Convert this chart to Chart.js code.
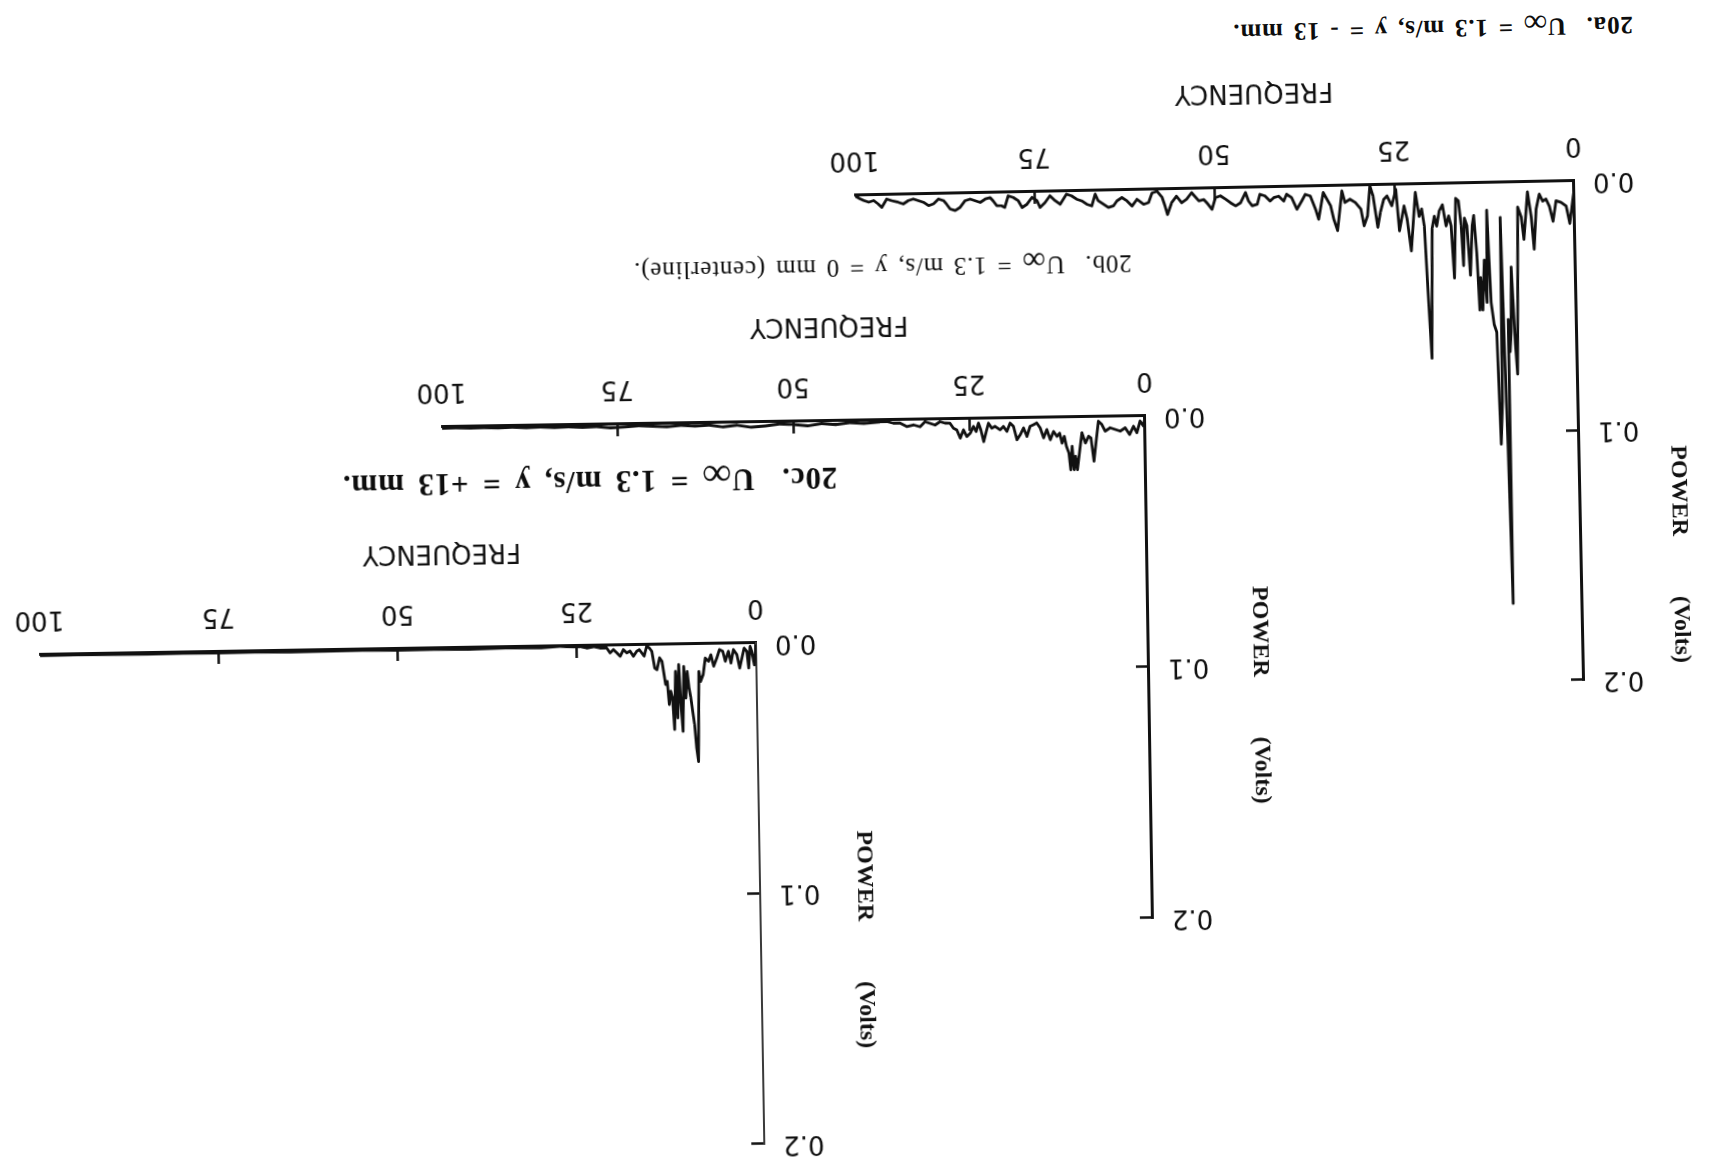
<!DOCTYPE html>
<html><head><meta charset="utf-8">
<script src="https://cdn.jsdelivr.net/npm/chart.js@4/dist/chart.umd.min.js"></script>
<style>
html,body{margin:0;padding:0;background:#fff;}
#page{position:relative;width:1710px;height:1169px;overflow:hidden;background:#fff;}
.wrap{position:absolute;}
.wrap canvas{position:absolute;left:0;top:0;}
.cap{position:absolute;white-space:pre;font-family:"Liberation Serif","Times New Roman",serif;color:#0d0d0d;line-height:1;letter-spacing:0.8px;word-spacing:3px;}
.cap .inf{display:inline-block;font-size:1.3em;line-height:0.5;transform:translateY(0.2em);}
</style></head><body><div id="page"></div>
<script>
// ---------- data ----------
const xTicks = [0, 25, 50, 75, 100];
const yTicks = [0, 0.1, 0.2];
const yTickLabels = ['0.0', '0.1', '0.2'];
const xTitle = 'FREQUENCY';
const yTitleWords = ['POWER', '(Volts)'];

// 20a: y = -13 mm
const freqA = [0,0.7,1.16,1.86,2.56,3.02,3.49,3.95,4.42,4.88,5.35,5.72,6.05,6.51,7.12,7.44,7.91,8.14,8.37,8.6,8.98,9.16,9.35,9.53,9.63,9.91,10.09,10.37,10.56,10.84,11.16,11.49,11.86,12.23,12.42,12.7,13.02,13.26,13.44,13.72,14.05,14.28,14.65,15.02,15.35,15.58,15.81,16.14,16.51,16.88,17.21,17.53,17.91,18.37,18.84,19.21,19.53,19.86,20.23,20.6,20.93,21.26,21.63,
22.1,22.8,23.3,23.7,24.4,24.8,25.4,26.05,26.5,27.0,27.4,27.98,28.4,28.8,29.3,29.7,30.46,31.2,31.9,32.3,33.0,33.5,33.9,34.9,35.6,36.0,36.7,37.4,37.9,38.6,39.3,40.0,40.4,41.1,41.8,42.3,43.0,43.7,44.1,44.8,45.3,45.7,46.4,47.1,47.8,48.5,49.2,49.9,50.4,51.1,51.5,52.2,53.2,53.9,54.6,55.3,56.0,56.6,57.0,57.3,58.0,58.7,
59.2,59.9,60.8,61.5,62.2,62.9,63.6,64.1,64.8,65.5,66.2,66.6,67.1,67.8,68.5,69.2,69.9,70.6,71.5,72.2,72.9,73.6,74.3,74.7,75.4,76.1,76.8,77.3,78.0,78.7,79.2,79.6,80.3,80.8,81.2,81.9,82.6,83.3,84.0,84.7,85.4,86.1,86.8,87.3,87.7,88.4,89.1,89.8,90.5,91.2,91.9,92.6,93.3,94.0,94.9,95.6,96.3,96.8,97.4,98.1,98.8,99.3,100];
const powerA = [0.003,0.017,0.010,0.0085,0.0078,0.016,0.010,0.007,0.0078,0.005,0.011,0.027,0.014,0.004,0.023,0.014,0.010,0.045,0.077,0.065,0.034,0.060,0.068,0.055,0.169,0.105,0.074,0.014,0.088,0.105,0.060,0.057,0.048,0.011,0.048,0.031,0.051,0.038,0.051,0.028,0.013,0.017,0.037,0.017,0.014,0.033,0.017,0.007,0.006,0.038,0.017,0.013,0.017,0.0085,0.011,0.017,0.013,0.018,0.070,0.043,0.017,0.010,0.013,
0.0033,0.0267,0.014,0.0086,0.0186,0.0019,0.0085,0.0045,0.0058,0.011,0.017,0.0044,0.0003,0.0123,0.0163,0.0096,0.0069,0.0055,0.0068,0.0021,0.018,0.0134,0.008,0.0026,0.0133,0.0093,0.0039,0.0032,0.0058,0.0091,0.0044,0.003,0.0057,0.0037,0.0043,0.0056,0.0035,0.0028,0.0068,0.0074,0.0054,0.002,0.006,0.0073,0.006,0.0045,0.0031,0.0038,0.0085,0.0058,0.0045,0.005,0.0016,0.0042,0.0056,0.0029,0.0055,0.0102,0.006,0.0033,0.0008,0.0014,
0.0052,0.0059,0.0038,0.0065,0.0044,0.003,0.0043,0.0063,0.0069,0.0055,0.0041,0.0014,0.0061,0.0054,0.004,0.0033,0.0019,0.0012,0.0052,0.0037,0.0017,0.0044,0.0063,0.0036,0.0022,0.0049,0.0062,0.0035,0.0021,0.0014,0.006,0.0054,0.0053,0.0033,0.002,0.0025,0.0038,0.0031,0.0024,0.003,0.0056,0.0069,0.0062,0.0042,0.0028,0.0021,0.004,0.0047,0.0033,0.0026,0.0019,0.0025,0.0038,0.0031,0.0024,0.0017,0.005,0.0036,0.0022,0.0028,0.0021,0.0014,0.0002];

// 20b: y = 0 mm (centerline)
const freqB = [0,0.24,0.71,1.19,1.66,2.23,2.84,3.55,4.26,4.98,5.69,6.16,6.64,6.97,7.35,7.73,8.06,8.53,9.01,9.34,9.72,9.96,10.19,10.43,10.67,10.9,11.24,11.52,11.85,12.18,12.56,13.04,13.51,13.99,14.46,14.93,15.41,15.88,16.36,16.83,17.3,17.78,18.25,18.73,19.2,19.67,20.15,20.62,21.33,21.81,22.28,22.61,22.99,23.37,23.7,24.04,24.42,24.89,25.37,25.84,26.31,26.79,27.26,27.74,28.45,29.16,29.87,30.58,31.29,32.0,32.95,33.9,34.85,35.8,36.75,37.7,
40,42,44,46,48,50,52,54,56,58,60,62,64,66,68,70,72,74,76,78,80,82,84,86,88,90,92,94,96,98,100];
const powerB = [0,0.004,0.002,0.0066,0.004,0.0073,0.0046,0.0059,0.0052,0.0045,0.0058,0.0031,0.0018,0.009,0.0177,0.0084,0.0077,0.0104,0.0063,0.013,0.021,0.0156,0.021,0.0116,0.021,0.0143,0.0116,0.0076,0.0103,0.0063,0.0076,0.0056,0.0089,0.0048,0.0081,0.0041,0.0021,0.0028,0.0034,0.0074,0.004,0.0067,0.0087,0.0033,0.002,0.0053,0.0033,0.0046,0.0032,0.0039,0.0019,0.0052,0.0092,0.0045,0.0018,0.0051,0.0031,0.0058,0.0071,0.0044,0.0077,0.0044,0.0037,0.0017,0.0016,0.001,0.0023,0.0016,0.0009,0.0029,0.0021,0.0027,0.0013,0.0013,0.0006,0.0007,
0.0012,0.0008,0.0015,0.0010,0.0018,0.0012,0.0009,0.0016,0.0020,0.0011,0.0017,0.0009,0.0012,0.0008,0.0013,0.0010,0.0007,0.0011,0.0014,0.0008,0.0010,0.0007,0.0009,0.0006,0.0008,0.0005,0.0007,0.0005,0.0006,0.0004,0.0005];

// 20c: y = +13 mm
const freqC = [0,0.28,0.61,0.84,1.07,1.3,1.68,2.0,2.33,2.7,3.17,3.54,3.87,4.33,4.66,5.12,5.5,5.96,6.33,6.66,7.12,7.45,7.82,8.05,8.29,8.52,8.75,8.99,9.22,9.45,9.68,9.92,10.15,10.38,10.61,10.85,11.08,11.31,11.55,11.78,12.01,12.24,12.48,12.71,13.17,13.5,13.88,14.2,14.57,14.9,15.28,15.65,15.97,16.3,16.67,17.14,17.6,18.06,18.53,18.99,19.46,19.92,20.39,20.86,21.79,22.72,23.65,24.58,25.51,26.44,27.37,
30,35,40,45,50,55,60,65,70,75,80,85,90,95,100];
const powerC = [0.0007,0.0087,0.0033,0.0013,0.0099,0.0033,0.002,0.0059,0.0099,0.0045,0.0025,0.0078,0.0031,0.0071,0.0031,0.0024,0.0057,0.009,0.0044,0.007,0.0057,0.0123,0.015,0.011,0.047,0.0416,0.0323,0.027,0.0215,0.0175,0.0109,0.0215,0.0089,0.0348,0.0241,0.0081,0.0294,0.0108,0.034,0.0214,0.0187,0.024,0.0147,0.016,0.0067,0.0053,0.01,0.0093,0.0026,0.0013,0.0006,0.0045,0.0032,0.0019,0.0025,0.0045,0.0024,0.0031,0.0018,0.0044,0.003,0.0017,0.003,0.001,0.001,0.0004,0.0009,0.0003,0.0003,0.0002,0.0,
0.0005,0.0003,0.0006,0.0004,0.0005,0.0003,0.0004,0.0005,0.0003,0.0004,0.0003,0.0004,0.0003,0.0002,0.0003];

const captionHeads = ['20a.  U', '20b.  U', '20c.  U'];
const captionTails = [' = 1.3 m/s, y = - 13 mm.', ' = 1.3 m/s, y = 0 mm (centerline).', ' = 1.3 m/s, y = +13 mm.'];

// ---------- layout (positions / styles) ----------
const panels = [
  {freq:freqA, power:powerA, ox:1574, oy:181, plotW:719, plotH:498, tilt:1.15, xTrail:10, yLead:21, yPad:27, capDx:-62, capDy:156, capSize:25, capBold:true,  capWs:3, dashY:false},
  {freq:freqB, power:powerB, ox:1145, oy:416, plotW:703, plotH:501, tilt:0.9,  xTrail:9,  yLead:5,  yPad:14, capDx:11,  capDy:154, capSize:25, capBold:false, capWs:3, dashY:false},
  {freq:freqC, power:powerC, ox:756,  oy:643, plotW:716, plotH:500, tilt:0.95, xTrail:11, yLead:8,  yPad:21, capDx:-84, capDy:165, capSize:31, capBold:true,  capWs:5, dashY:true}
];

Chart.defaults.font.family = "'DejaVu Sans', sans-serif";
const INK = '#111111';
const YW = 140, XH = 140, PAD_T = 30, PAD_R = 40;
const page = document.getElementById('page');

function makeChart(cv, p, W, H){
  cv.width = W; cv.height = H; cv.style.width = W+'px'; cv.style.height = H+'px';
  return new Chart(cv, {
    type: 'line',
    data: {datasets: [{
      data: p.freq.map((f, i) => ({x: f, y: p.power[i]})),
      borderColor: INK, borderWidth: 2.8, pointRadius: 0, tension: 0, fill: false,
      borderJoinStyle: 'round'
    }]},
    options: {
      responsive: false, animation: false, events: [],
      layout: {padding: {left: 0, top: PAD_T, right: PAD_R, bottom: 0}},
      plugins: {legend: {display: false}, tooltip: {enabled: false}},
      scales: {
        x: {
          type: 'linear', position: 'bottom', min: 0, max: 100,
          afterFit: s => { s.height = XH; },
          afterBuildTicks: s => { s.ticks = xTicks.map(v => ({value: v})); },
          grid: {display: true, drawOnChartArea: false, drawTicks: true, tickLength: -12, tickWidth: 2.5,
                 tickColor: c => (c.tick && c.tick.value === 100) ? 'rgba(0,0,0,0)' : INK},
          border: {display: true, color: INK, width: 3},
          ticks: {padding: 33, autoSkip: false, maxRotation: 0, minRotation: 0, color: INK,
                  font: {size: 26}, callback: v => String(v)},
          title: {display: true, text: xTitle + ' '.repeat(p.xTrail), color: INK,
                  font: {size: 26}, padding: {top: 0, bottom: 28}}
        },
        y: {
          type: 'linear', position: 'left', min: 0, max: 0.2,
          afterFit: s => { s.width = YW; },
          afterBuildTicks: s => { s.ticks = yTicks.map(v => ({value: v})); },
          grid: {display: true, drawOnChartArea: false, drawTicks: true, tickLength: -13, tickWidth: 2.5, tickColor: INK},
          border: {display: true, color: p.dashY ? '#3a3a3a' : INK, width: p.dashY ? 2 : 3, dash: p.dashY ? [3, 5] : []},
          ticks: {padding: 32, autoSkip: false, color: INK, font: {size: 26},
                  callback: (v, i) => yTickLabels[i]},
          title: {display: true,
                  text: '\u2002'.repeat(p.yLead) + yTitleWords[0] + '\u2002'.repeat(5) + yTitleWords[1],
                  color: INK, font: {family: "'Liberation Serif', 'Times New Roman', serif", size: 24, weight: 'bold'},
                  padding: {top: p.yPad, bottom: 0}}
        }
      }
    }
  });
}

panels.forEach((p, k) => {
  let W = YW + p.plotW + PAD_R, H = PAD_T + p.plotH + XH;
  const wrap = document.createElement('div'); wrap.className = 'wrap';
  const cv = document.createElement('canvas');
  wrap.appendChild(cv); page.appendChild(wrap);
  let chart = makeChart(cv, p, W, H);
  let ca = chart.chartArea;
  const dw = p.plotW - (ca.right - ca.left), dh = p.plotH - (ca.bottom - ca.top);
  if (Math.abs(dw) > 0.5 || Math.abs(dh) > 0.5) {
    chart.destroy(); W += dw; H += dh;
    chart = makeChart(cv, p, Math.round(W), Math.round(H));
    ca = chart.chartArea;
  }
  wrap.style.width = W + 'px'; wrap.style.height = H + 'px';
  wrap.style.left = (p.ox - ca.left) + 'px';
  wrap.style.top = (p.oy - ca.bottom) + 'px';
  wrap.style.transformOrigin = ca.left + 'px ' + ca.bottom + 'px';
  wrap.style.transform = 'rotate(' + (180 - p.tilt) + 'deg)';

  const cap = document.createElement('div'); cap.className = 'cap';
  cap.style.fontSize = p.capSize + 'px';
  cap.style.fontWeight = p.capBold ? 'bold' : 'normal';
  cap.style.wordSpacing = p.capWs + 'px';
  const s1 = document.createElement('span'); s1.textContent = captionHeads[k];
  const s2 = document.createElement('span'); s2.className = 'inf'; s2.textContent = '\u221E';
  const s3 = document.createElement('span'); s3.textContent = captionTails[k];
  cap.appendChild(s1); cap.appendChild(s2); cap.appendChild(s3);
  cap.style.left = (ca.left + p.capDx) + 'px';
  cap.style.top = (ca.bottom + p.capDy - p.capSize * 0.55) + 'px';
  wrap.appendChild(cap);
});
</script>
</body></html>
